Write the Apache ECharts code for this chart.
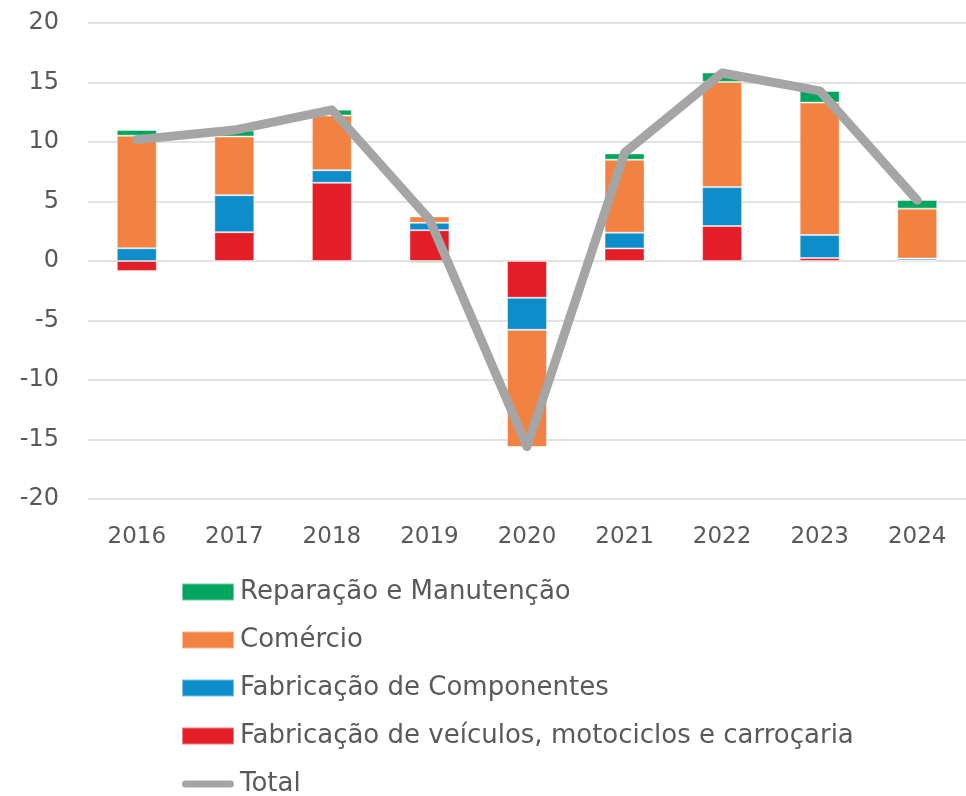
<!DOCTYPE html>
<html>
<head>
<meta charset="utf-8">
<script src="https://cdn.jsdelivr.net/npm/echarts@6/dist/echarts.min.js"></script>
<style>html,body{margin:0;padding:0;background:#fff;}#c{width:966px;height:796px;}</style>
</head>
<body>
<div id="c"></div>
<script>
const years = ['2016','2017','2018','2019','2020','2021','2022','2023','2024'];
const veiculos = [-0.85, 2.42, 6.57, 2.59, -3.09, 1.06, 2.94, 0.25, 0.05];
const componentes = [1.07, 3.11, 1.06, 0.62, -2.69, 1.32, 3.27, 1.93, 0.15];
const comercio = [9.46, 4.93, 4.59, 0.53, -9.86, 6.13, 8.84, 11.13, 4.2];
const reparacao = [0.48, 0.5, 0.5, -0.15, 0, 0.53, 0.78, 0.98, 0.73];
const total = [10.2, 11.0, 12.7, 3.5, -15.6, 9.1, 15.8, 14.3, 5.1];

const FONT = 'DejaVu Sans';
const TXT = '#595959';
const chart = echarts.init(document.getElementById('c'), null, {renderer: 'canvas'});
const barBase = {type: 'bar', stack: 'a', barWidth: 40,
  itemStyle: {borderColor: 'rgba(255,255,255,0.45)', borderWidth: 1}};
chart.setOption({
  animation: false,
  grid: {left: 88, top: 23, width: 889, height: 476, containLabel: false},
  xAxis: {type: 'category', data: years,
    axisLine: {show: false}, axisTick: {show: false},
    axisLabel: {color: TXT, fontFamily: FONT, fontSize: 23, margin: 27}},
  yAxis: {type: 'value', min: -20, max: 20, interval: 5,
    axisLine: {show: false}, axisTick: {show: false},
    splitLine: {lineStyle: {color: '#D9D9D9', width: 1.5}},
    axisLabel: {color: TXT, fontFamily: FONT, fontSize: 24, margin: 29}},
  legend: {orient: 'vertical', left: 181, top: 579, padding: 0, height: 260,
    itemWidth: 52, itemHeight: 17, itemGap: 22,
    textStyle: {color: TXT, fontFamily: FONT, fontSize: 26, lineHeight: 26, padding: [0,0,0,1]},
    data: [
      {name: 'Reparação e Manutenção', icon: 'rect'},
      {name: 'Comércio', icon: 'rect'},
      {name: 'Fabricação de Componentes', icon: 'rect'},
      {name: 'Fabricação de veículos, motociclos e carroçaria', icon: 'rect'},
      {name: 'Total', icon: 'path://M4,0 L54,0 A4,4 0 0 1 54,8 L4,8 A4,4 0 0 1 4,0 Z', itemStyle: {color: '#A5A5A5'}}
    ]},
  series: [
    Object.assign({}, barBase, {name: 'Fabricação de veículos, motociclos e carroçaria', data: veiculos, itemStyle: Object.assign({}, barBase.itemStyle, {color: '#E31E26'})}),
    Object.assign({}, barBase, {name: 'Fabricação de Componentes', data: componentes, itemStyle: Object.assign({}, barBase.itemStyle, {color: '#0D8ECB'})}),
    Object.assign({}, barBase, {name: 'Comércio', data: comercio, itemStyle: Object.assign({}, barBase.itemStyle, {color: '#F28241'})}),
    Object.assign({}, barBase, {name: 'Reparação e Manutenção', data: reparacao, itemStyle: Object.assign({}, barBase.itemStyle, {color: '#00A65D'})}),
    {name: 'Total', type: 'line', data: total, symbol: 'none', z: 5,
      itemStyle: {color: '#A5A5A5'},
      lineStyle: {color: '#A5A5A5', width: 9, cap: 'round', join: 'round'}}
  ]
});
</script>
</body>
</html>
